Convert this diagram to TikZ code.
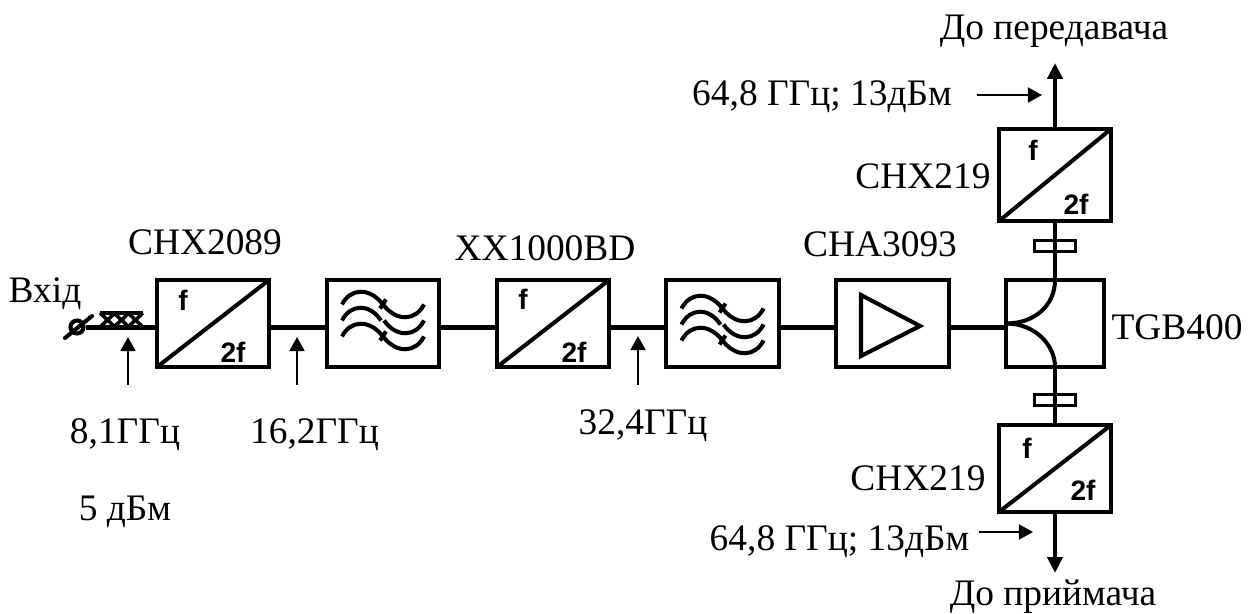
\documentclass[tikz,border=0pt]{standalone}
\usepackage{fontspec}
\setmainfont{Liberation Serif}
\newfontfamily\labelsans{Liberation Sans}
\usetikzlibrary{arrows.meta,calc}
\tikzset{
  px/.style={x=0.02cm,y=-0.02cm},
  wire/.style={line width=2.3pt,line cap=round},
  block/.style={draw,line width=2.3pt,fill=none,inner sep=0pt,outer sep=0pt,rectangle},
  thinarrow/.style={line width=1.2pt,-{Triangle[length=8pt,width=8.5pt]}},
  bigarrow/.style={line width=2.5pt,-{Triangle[length=9pt,width=8.5pt]}},
  lbl/.style={font=\fontsize{21.3pt}{25pt}\selectfont,inner sep=0pt,anchor=base},
  ftext/.style={font=\labelsans\bfseries\fontsize{16pt}{18pt}\selectfont,inner sep=0pt},
}
\newcommand{\mkblock}[5]{% name, left, top, right, bottom
  \node[block,minimum width={(#4-#2)*0.02cm},minimum height={(#5-#3)*0.02cm}] (#1) at ({(#2+#4)/2},{(#3+#5)/2}) {};
}
\newcommand{\mkwaves}[2]{% box name, vertical offset of the first curve
  \begin{scope}[shift={(#1.center)},wire,line cap=butt]
    \foreach \k in {0,1,2}{
      \pgfmathsetmacro{\dy}{#2+16*\k}
      \ifnum\k=1
        \draw (-41,\dy) .. controls (-33,\dy-16) and (-14,\dy-18) .. (-2,\dy);
        \draw (1,\dy) .. controls (14,\dy+18) and (33,\dy+16) .. (41,\dy);
      \else
        \draw (-41,\dy) .. controls (-33,\dy-16) and (-14,\dy-18) .. (0,\dy)
              .. controls (14,\dy+18) and (33,\dy+16) .. (41,\dy);
        \draw (-3,\dy+4) -- (3,\dy-5);
      \fi
    }
  \end{scope}
}
\newcommand{\mkdoubler}[9]{% name,l,t,r,b,fx,fy,2fx,2fy
  \mkblock{#1}{#2}{#3}{#4}{#5}
  \draw[wire,line cap=butt] (#1.south west) -- (#1.north east);
  \node[ftext] (#1f) at (#6,#7) {f};
  \node[ftext] (#1ff) at (#8,#9) {2f};
}
\begin{document}
\begin{tikzpicture}[px]
\useasboundingbox (0,0) rectangle (1250,614);
\coordinate (bus) at (0,327.5);
\coordinate (vert) at (1055,0);
\coordinate (join) at (0,323.5);
% blocks
\mkdoubler{da}{157}{280}{269}{367}{183}{300}{233}{352}
\mkblock{fa}{327}{280}{439}{367}
\mkdoubler{db}{497}{280}{609}{367}{523}{299}{574}{352}
\mkblock{fb}{666}{280}{779}{367}
\mkblock{amp}{836}{280}{949}{367}
\mkblock{tg}{1006}{280}{1104}{367}
\mkdoubler{dt}{999}{129}{1111}{221}{1033}{150}{1076}{204}
\mkdoubler{dl}{999}{425}{1111}{512}{1027}{448}{1083}{490}
\mkwaves{fa}{-19}
\mkwaves{fb}{-15}
% amplifier triangle
\draw[wire,line join=miter,line cap=butt] (861,295) -- (920,326) -- (861,356) -- cycle;
% input connector
\node[draw,circle,line width=2.3pt,minimum size=0.26cm,inner sep=0pt] (inp) at (77,327) {};
\coordinate (slasha) at (65,338);
\coordinate (slashb) at (92,316);
\draw[wire] (slasha) -- (slashb);
\draw[wire,line cap=butt] (100,313) -- (143,313);
\foreach \xa in {100,114,128}{
  \draw[line width=2pt] (\xa,313) -- (\xa+15,327);
  \draw[line width=2pt] (\xa+15,313) -- (\xa,327);
}
% bus
\draw[wire,line cap=butt] (inp.east |- bus) -- (da.west |- bus);
\draw[wire,line cap=butt] (da.east |- bus) -- (fa.west |- bus);
\draw[wire,line cap=butt] (fa.east |- bus) -- (db.west |- bus);
\draw[wire,line cap=butt] (db.east |- bus) -- (fb.west |- bus);
\draw[wire,line cap=butt] (fb.east |- bus) -- (amp.west |- bus);
\draw[wire,line cap=butt] (amp.east |- bus) -- (tg.west |- bus);
% vertical connections
\draw[wire,line cap=butt] (dt.south -| vert) -- (tg.north -| vert);
\draw[wire,line cap=butt] (tg.south -| vert) -- (dl.north -| vert);
\node[block,line width=1.7pt,minimum width=0.82cm,minimum height=0.22cm] (wgt) at (1055,246) {};
\node[block,line width=1.7pt,minimum width=0.82cm,minimum height=0.22cm] (wgl) at (1055,400) {};
\draw[wire,line cap=butt] (tg.north -| vert) .. controls (1055,305) and (1035,323.5) .. (tg.west |- join);
\draw[wire,line cap=butt] (tg.south -| vert) .. controls (1055,345) and (1035,323.5) .. (tg.west |- join);
% outputs
\coordinate (outt) at (1055,63);
\coordinate (outl) at (1055,573);
\draw[bigarrow] (dt.north -| vert) -- (outt);
\draw[bigarrow] (dl.south -| vert) -- (outl);
% markers
\coordinate (m1s) at (128,385); \coordinate (m1e) at (128,337);
\coordinate (m2s) at (297,385); \coordinate (m2e) at (297,337);
\coordinate (m3s) at (638,385); \coordinate (m3e) at (638,336);
\draw[thinarrow] (m1s) -- (m1e);
\draw[thinarrow] (m2s) -- (m2e);
\draw[thinarrow] (m3s) -- (m3e);
% labels
\node[lbl] (t1) at (1054,40) {До передавача};
\node[lbl] (t2) at (822,106) {64,8 ГГц; 13дБм};
\node[lbl] (t3) at (923,189) {CHX219};
\node[lbl] (t4) at (205,254.5) {CHX2089};
\node[lbl] (t5) at (545,260.5) {XX1000BD};
\node[lbl] (t6) at (880,257) {CHA3093};
\node[lbl] (t7) at (45,302.5) {Вхід};
\node[lbl] (t8) at (1177,340) {TGB400};
\node[lbl] (t9) at (125,443) {8,1ГГц};
\node[lbl] (t10) at (314.5,443) {16,2ГГц};
\node[lbl] (t11) at (643,435) {32,4ГГц};
\node[lbl] (t12) at (125,520) {5 дБм};
\node[lbl] (t13) at (918,490.5) {CHX219};
\node[lbl] (t14) at (839.5,550.5) {64,8 ГГц; 13дБм};
\node[lbl] (t15) at (1053,605) {До приймача};
\coordinate (a1s) at (977,95); \coordinate (a1e) at (1042,95);
\coordinate (a2s) at (979,532); \coordinate (a2e) at (1033,532);
\draw[thinarrow] (a1s) -- (a1e);
\draw[thinarrow] (a2s) -- (a2e);
\end{tikzpicture}
\end{document}
